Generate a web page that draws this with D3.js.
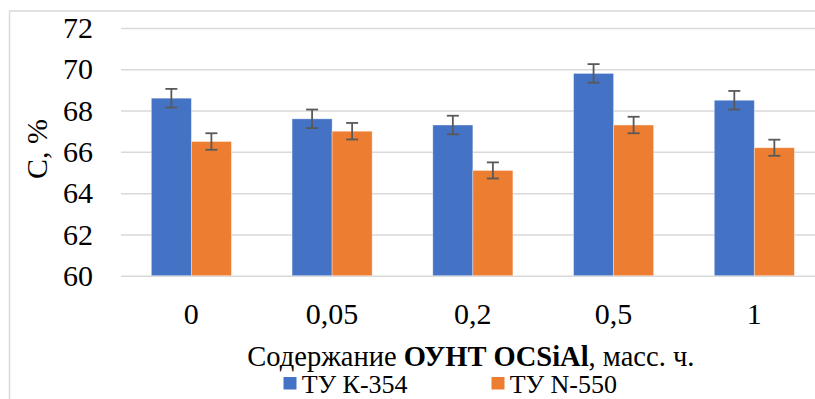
<!DOCTYPE html>
<html><head><meta charset="utf-8">
<script src="https://cdn.jsdelivr.net/npm/d3@7"></script>
<style>body{margin:0;background:#fff}svg{display:block}
.serif, .serif text{font-family:'Liberation Serif','Times New Roman',Times,'DejaVu Serif',serif !important;}</style>
</head><body><svg id="c" width="815" height="399" class="serif"></svg>
<script>
const categories = ["0", "0,05", "0,2", "0,5", "1"];
const seriesNames = ["ТУ К-354", "ТУ N-550"];
const k354 = [68.6, 67.6, 67.3, 69.8, 68.5];
const n550 = [66.5, 67.0, 65.1, 67.3, 66.2];
const k354Err = [0.45, 0.45, 0.45, 0.45, 0.45];
const n550Err = [0.4, 0.4, 0.39, 0.4, 0.39];
const yTicks = [60, 62, 64, 66, 68, 70, 72];
const colors = ["#4472C4", "#ED7D31"];

(function () {
const svg = d3.select("#c");
// outer chart border (cropped)
svg.append("rect").attr("x", 9.5).attr("y", 11).attr("width", 900).attr("height", 500)
  .attr("fill", "none").attr("stroke", "#D9D9D9").attr("stroke-width", 1.5);

const pL = 121, pR = 824.7, pT = 28, pB = 275.7;
const y = d3.scaleLinear().domain([60, 72]).range([pB, pT]);
const x = d3.scaleBand().domain(categories).range([pL, pR]).paddingInner(0.431).paddingOuter(0.2155);
const xs = d3.scaleBand().domain(seriesNames).range([0, x.bandwidth()]).padding(0);

// gridlines + y labels
const ya = svg.append("g").attr("transform", `translate(${pL},0)`)
  .call(d3.axisLeft(y).tickValues(yTicks).tickSize(-(pR - pL)).tickPadding(28).tickFormat(d3.format("d")));
ya.attr("font-family", null).attr("font-size", 30).attr("class", "serif");
ya.select(".domain").remove();
ya.selectAll("line").attr("stroke", "#D9D9D9").attr("stroke-width", 1.5);
ya.selectAll("text").attr("fill", "#000");

const data = categories.map((c, i) => ({c, vals: [
  {s: seriesNames[0], v: k354[i], e: k354Err[i], col: colors[0]},
  {s: seriesNames[1], v: n550[i], e: n550Err[i], col: colors[1]}]}));

const g = svg.append("g").selectAll("g").data(data).join("g")
  .attr("transform", d => `translate(${x(d.c)},0)`);
g.selectAll("rect").data(d => d.vals).join("rect")
  .attr("x", d => xs(d.s)).attr("width", xs.bandwidth())
  .attr("y", d => y(d.v)).attr("height", d => y(60) - y(d.v))
  .attr("fill", d => d.col).attr("stroke", "#fff").attr("stroke-opacity", 0.45).attr("stroke-width", 0.8);

// error bars
const eb = g.selectAll("g.eb").data(d => d.vals).join("g").attr("class", "eb")
  .attr("stroke", "#595959").attr("stroke-width", 1.8);
const cx = d => xs(d.s) + xs.bandwidth() / 2;
eb.append("line").attr("x1", cx).attr("x2", cx).attr("y1", d => y(d.v + d.e)).attr("y2", d => y(d.v - d.e));
eb.append("line").attr("x1", d => cx(d) - 6).attr("x2", d => cx(d) + 6).attr("y1", d => y(d.v + d.e)).attr("y2", d => y(d.v + d.e));
eb.append("line").attr("x1", d => cx(d) - 6).attr("x2", d => cx(d) + 6).attr("y1", d => y(d.v - d.e)).attr("y2", d => y(d.v - d.e));

// x axis labels
const xa = svg.append("g").attr("transform", `translate(0,${pB})`)
  .call(d3.axisBottom(x).tickSize(0).tickPadding(27));
xa.attr("font-family", null).attr("font-size", 30).attr("class", "serif");
xa.select(".domain").remove();
xa.selectAll("text").attr("fill", "#000");

// y title
svg.append("text").attr("transform", "translate(47,149) rotate(-90)").attr("text-anchor", "middle")
  .attr("font-size", 30).text("C, %");

// x title
const xt = svg.append("text").attr("x", (pL + pR) / 2 - 2).attr("y", 365.5).attr("text-anchor", "middle")
  .attr("font-size", 28.5);
xt.append("tspan").text("Содержание ");
xt.append("tspan").attr("font-weight", "bold").text("ОУНТ OCSiAl");
xt.append("tspan").text(", масс. ч.");

// legend
const legX = [283.5, 491.5];
const lg = svg.append("g").attr("font-size", 26)
  .selectAll("g").data(seriesNames).join("g")
  .attr("transform", (d, i) => `translate(${legX[i]},0)`);
lg.append("rect").attr("x", 0).attr("y", 377).attr("width", 13).attr("height", 12.5).attr("fill", (d, i) => colors[i]);
lg.append("text").attr("x", 18.3).attr("y", 393).text(d => d);
})();
</script></body></html>
